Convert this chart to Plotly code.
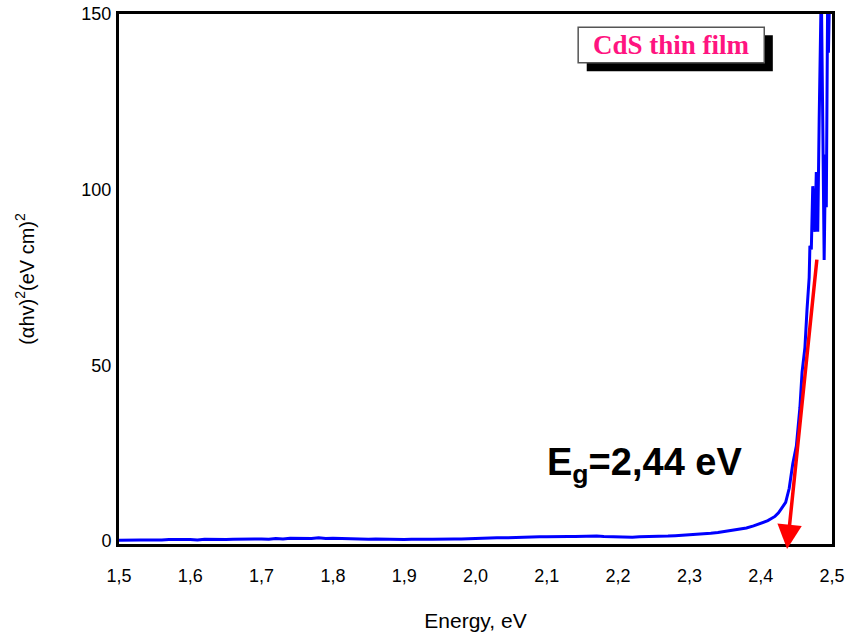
import plotly.graph_objects as go

# Energy (eV) and (alpha h nu)^2 values
energy = [1.50, 1.51, 1.52, 1.53, 1.54, 1.55, 1.56, 1.57, 1.58, 1.59,
          1.60, 1.61, 1.62, 1.63, 1.64, 1.65, 1.66, 1.67, 1.68, 1.69,
          1.70, 1.71, 1.72, 1.73, 1.74, 1.75, 1.76, 1.77, 1.78, 1.79,
          1.80, 1.81, 1.82, 1.83, 1.84, 1.85, 1.86, 1.87, 1.88, 1.89,
          1.90, 1.91, 1.92, 1.93, 1.94, 1.95, 1.96, 1.97, 1.98, 1.99,
          2.00, 2.01, 2.02, 2.03, 2.04, 2.05, 2.06, 2.07, 2.08, 2.09,
          2.10, 2.11, 2.12, 2.13, 2.14, 2.15, 2.16, 2.17, 2.18, 2.19,
          2.20, 2.21, 2.22, 2.23, 2.24, 2.25, 2.26, 2.27, 2.28, 2.29,
          2.30, 2.31, 2.32, 2.33, 2.34, 2.35, 2.36, 2.37, 2.38, 2.39,
          2.40, 2.41, 2.42, 2.425, 2.43, 2.435, 2.44, 2.445, 2.45, 2.455,
          2.458, 2.462, 2.465, 2.468, 2.469, 2.471, 2.473, 2.475, 2.476, 2.478,
          2.480, 2.482, 2.485, 2.487, 2.489, 2.491, 2.492, 2.494, 2.495, 2.497,
          2.499]
alpha_hv_sq = [0.2, 0.3, 0.2, 0.3, 0.3, 0.2, 0.3, 0.4, 0.3, 0.4,
               0.4, 0.3, 0.5, 0.4, 0.5, 0.4, 0.5, 0.6, 0.5, 0.6,
               0.6, 0.5, 0.7, 0.6, 0.8, 0.7, 0.8, 0.7, 0.9, 0.7,
               0.8, 0.7, 0.6, 0.7, 0.6, 0.5, 0.6, 0.5, 0.4, 0.5,
               0.4, 0.5, 0.4, 0.5, 0.5, 0.6, 0.5, 0.6, 0.6, 0.7,
               0.7, 0.8, 0.8, 0.9, 0.9, 1.0, 1.0, 1.1, 1.1, 1.2,
               1.2, 1.3, 1.2, 1.3, 1.3, 1.4, 1.3, 1.4, 1.3, 1.2,
               1.2, 1.1, 1.1, 1.2, 1.2, 1.3, 1.3, 1.4, 1.5, 1.6,
               1.7, 1.9, 2.0, 2.2, 2.4, 2.7, 3.0, 3.3, 3.7, 4.3,
               5.0, 5.8, 7.0, 8.0, 9.5, 11, 15, 22, 27, 38,
               48, 55, 66, 75, 84, 83, 101, 90, 88, 105,
               88, 120, 158, 120, 80, 110, 95, 158, 139, 160,
               150]

x_tick_vals = [1.5, 1.6, 1.7, 1.8, 1.9, 2.0, 2.1, 2.2, 2.3, 2.4, 2.5]
x_tick_text = ["1,5", "1,6", "1,7", "1,8", "1,9", "2,0", "2,1", "2,2", "2,3", "2,4", "2,5"]
y_tick_vals = [0, 50, 100, 150]

# Tangent line (extrapolation to band gap)
tangent_start = (2.479, 80.5)
tangent_end = (2.437, -2.3)

fig = go.Figure()
fig.add_trace(go.Scatter(x=energy, y=alpha_hv_sq, mode="lines",
                         line=dict(color="#0000FF", width=3),
                         showlegend=False))

fig.add_annotation(x=tangent_end[0], y=tangent_end[1],
                   ax=tangent_start[0], ay=tangent_start[1],
                   xref="x", yref="y", axref="x", ayref="y",
                   text="", showarrow=True, arrowhead=2, arrowsize=1.4,
                   arrowwidth=3.5, arrowcolor="#FF0000", standoff=0)

fig.add_annotation(x=2.237, y=21.5, xref="x", yref="y",
                   xanchor="center", yanchor="middle",
                   text="<b>E<sub>g</sub>=2,44 eV</b>", showarrow=False,
                   font=dict(family="Arial, Liberation Sans", size=38, color="black"))

# Label box with shadow
fig.add_shape(type="rect", xref="paper", yref="paper",
              x0=0.656, x1=0.917, y0=0.892, y1=0.960,
              fillcolor="black", line=dict(width=0), layer="above")
fig.add_shape(type="rect", xref="paper", yref="paper",
              x0=0.644, x1=0.905, y0=0.908, y1=0.975,
              fillcolor="white", line=dict(color="#555555", width=1.5), layer="above")
fig.add_annotation(x=0.7745, y=0.9415, xref="paper", yref="paper",
                   xanchor="center", yanchor="middle",
                   text="<b>CdS thin film</b>", showarrow=False,
                   font=dict(family="Liberation Serif, Times New Roman", size=27, color="#FF1480"))

fig.update_layout(
    width=848, height=635,
    margin=dict(l=119, r=16, t=14, b=91, autoexpand=False),
    paper_bgcolor="white", plot_bgcolor="white",
    font=dict(family="Arial, Liberation Sans", color="black"),
    xaxis=dict(range=[1.5, 2.5], tickvals=x_tick_vals, ticktext=x_tick_text,
               showgrid=False, zeroline=False, showline=True, linecolor="black",
               linewidth=3, mirror=True, ticks="", ticklabelstandoff=13,
               tickfont=dict(size=18), automargin=False,
               title=dict(text="Energy, eV", font=dict(size=21), standoff=29)),
    yaxis=dict(range=[-0.85, 150], tickvals=y_tick_vals,
               showgrid=False, zeroline=False, showline=True, linecolor="black",
               linewidth=3, mirror=True, ticks="", ticklabelstandoff=1,
               tickfont=dict(size=18), automargin=False,
               title=dict(text="(αhv)<sup>2</sup>(eV cm)<sup>2</sup>", font=dict(size=20), standoff=42)),
)

fig.write_html("out.html", config={"displayModeBar": False},
               post_script="document.body.style.margin='0px';")
